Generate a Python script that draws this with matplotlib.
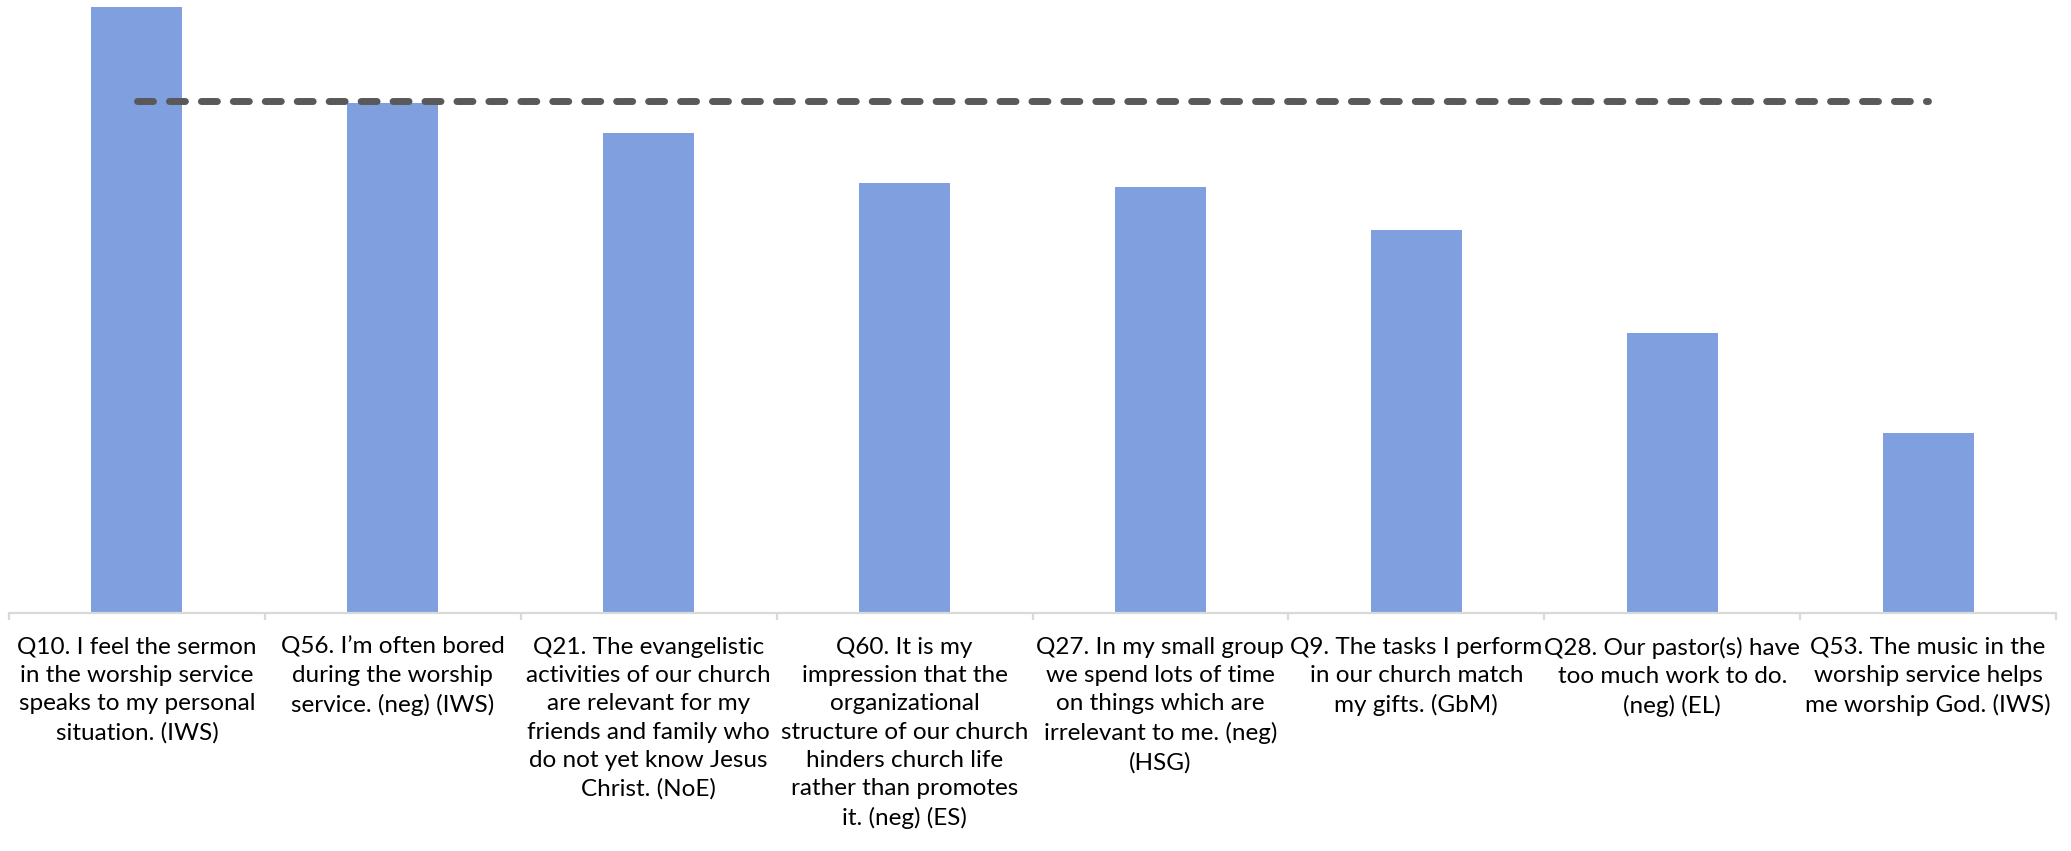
import numpy as np
import matplotlib
matplotlib.use("Agg")
import matplotlib.pyplot as plt

plt.rcParams['font.family'] = ['Lato', 'DejaVu Sans']

labels = [
    "Q10. I feel the sermon\nin the worship service\nspeaks to my personal\nsituation. (IWS)",
    "Q56. I\u2019m often bored\nduring the worship\nservice. (neg) (IWS)",
    "Q21. The evangelistic\nactivities of our church\nare relevant for my\nfriends and family who\ndo not yet know Jesus\nChrist. (NoE)",
    "Q60. It is my\nimpression that the\norganizational\nstructure of our church\nhinders church life\nrather than promotes\nit. (neg) (ES)",
    "Q27. In my small group\nwe spend lots of time\non things which are\nirrelevant to me. (neg)\n(HSG)",
    "Q9. The tasks I perform\nin our church match\nmy gifts. (GbM)",
    "Q28. Our pastor(s) have\ntoo much work to do.\n(neg) (EL)",
    "Q53. The music in the\nworship service helps\nme worship God. (IWS)",
]
values = [4.57, 3.84, 3.62, 3.24, 3.21, 2.89, 2.11, 1.36]
reference = 3.86

fig = plt.figure(figsize=(20.71, 8.51), dpi=100)
ax = fig.add_axes([9 / 2071, 1 - 613 / 851, 2047 / 2071, 613 / 851])

x = np.arange(len(values))
ax.bar(x, values, width=0.356, color="#7F9FDF", zorder=2)

# benchmark line from first to last bar centre
ax.plot([x[0], x[-1]], [reference, reference], color="#595959", lw=5,
        linestyle=(0, (2.3, 2.3)), dash_capstyle="round", zorder=3)

ax.set_xlim(-0.5, len(values) - 0.5)
ax.set_ylim(0, 4.62)

for s in ["top", "right", "left"]:
    ax.spines[s].set_visible(False)
ax.spines["bottom"].set_color("#D9D9D9")
ax.spines["bottom"].set_linewidth(1.6)
ax.set_yticks([])

ax.set_xticks(x)
ax.set_xticklabels(labels, fontsize=17.5, linespacing=1.43, color="black")
ax.tick_params(axis="x", which="major", length=0, pad=17)
ax.set_xticks(np.arange(-0.5, len(values)), minor=True)
ax.tick_params(axis="x", which="minor", length=5, width=1.6, color="#D9D9D9")

fig.savefig("out.png", dpi=100)
